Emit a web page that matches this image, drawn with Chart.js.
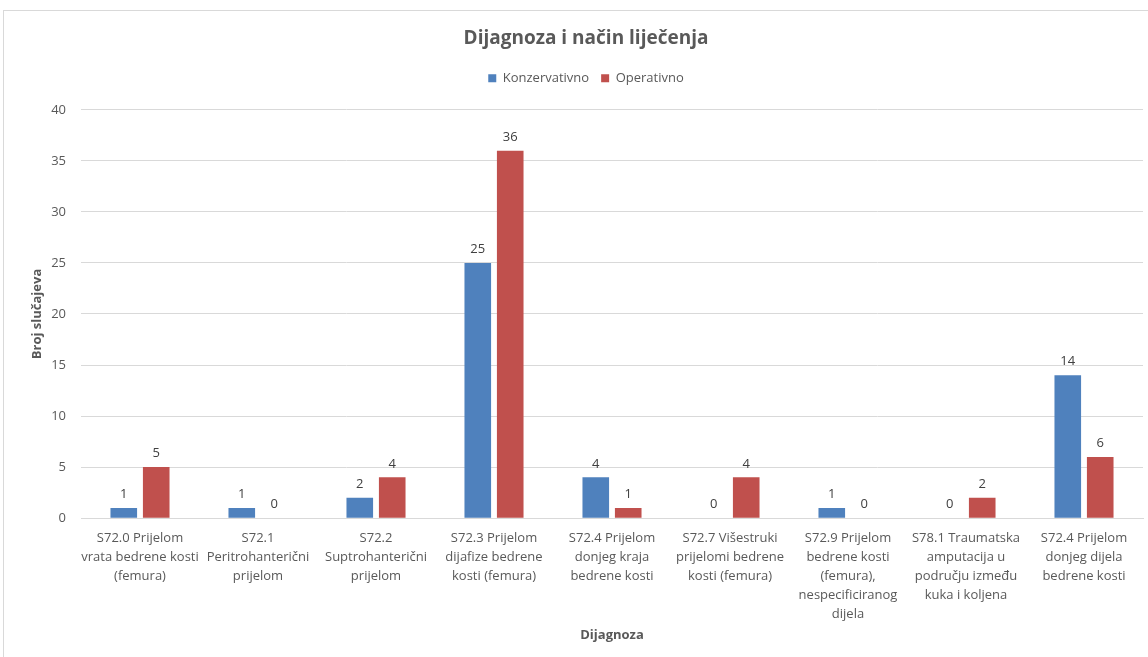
<!DOCTYPE html>
<html>
<head>
<meta charset="utf-8">
<script src="https://cdn.jsdelivr.net/npm/chart.js@4"></script>
<style>
  body { margin: 0; background: #fff; }
  #wrap { position: absolute; left: 3px; top: 10px; width: 1150px; height: 650px; border: 1px solid #d9d9d9; }
</style>
</head>
<body>
<div id="wrap"><canvas id="c"></canvas></div>
<script>
const categories = [
  ['S72.0 Prijelom', 'vrata bedrene kosti', '(femura)'],
  ['S72.1', 'Peritrohanterični', 'prijelom'],
  ['S72.2', 'Suptrohanterični', 'prijelom'],
  ['S72.3 Prijelom', 'dijafize bedrene', 'kosti (femura)'],
  ['S72.4 Prijelom', 'donjeg kraja', 'bedrene kosti'],
  ['S72.7 Višestruki', 'prijelomi bedrene', 'kosti (femura)'],
  ['S72.9 Prijelom', 'bedrene kosti', '(femura),', 'nespecificiranog', 'dijela'],
  ['S78.1 Traumatska', 'amputacija u', 'području između', 'kuka i koljena'],
  ['S72.4 Prijelom', 'donjeg dijela', 'bedrene kosti']
];
const konzervativno = [1, 1, 2, 25, 4, 0, 1, 0, 14];
const operativno = [5, 0, 4, 36, 1, 4, 0, 2, 6];

const fontFamily = 'Open Sans, Noto Sans, sans-serif';

// numbers above the bars
const valueLabels = {
  id: 'valueLabels',
  afterDatasetsDraw(chart) {
    const ctx = chart.ctx;
    ctx.save();
    ctx.font = '13px ' + fontFamily;
    ctx.fillStyle = '#404040';
    ctx.textAlign = 'center';
    ctx.textBaseline = 'bottom';
    chart.data.datasets.forEach((ds, i) => {
      chart.getDatasetMeta(i).data.forEach((bar, j) => {
        ctx.fillText(ds.data[j], bar.x, bar.y - 7);
      });
    });
    ctx.restore();
  }
};

// extra room under the legend
const legendGap = {
  id: 'legendGap',
  beforeInit(chart) {
    const fit = chart.legend.fit;
    chart.legend.fit = function () {
      fit.call(this);
      this.height += 15;
    };
  }
};

new Chart(document.getElementById('c'), {
  type: 'bar',
  data: {
    labels: categories,
    datasets: [
      { label: 'Konzervativno', data: konzervativno, backgroundColor: '#4F81BD' },
      { label: 'Operativno', data: operativno, backgroundColor: '#C0504D' }
    ]
  },
  options: {
    responsive: true,
    maintainAspectRatio: false,
    animation: false,
    categoryPercentage: 0.55,
    barPercentage: 0.82,
    layout: { padding: { left: 25, right: 11, top: 16, bottom: 14 } },
    plugins: {
      title: {
        display: true,
        text: 'Dijagnoza i način liječenja',
        color: '#595959',
        font: { family: fontFamily, size: 19, weight: 'bold' },
        padding: { top: 0, bottom: 10 }
      },
      legend: {
        labels: {
          color: '#595959',
          font: { family: fontFamily, size: 13 },
          boxWidth: 8,
          boxHeight: 8,
          padding: 12
        }
      },
      tooltip: { enabled: false }
    },
    scales: {
      x: {
        grid: { display: false },
        border: { color: '#d9d9d9' },
        ticks: {
          color: '#595959',
          font: { family: fontFamily, size: 13, lineHeight: 1.45 },
          maxRotation: 0,
          autoSkip: false
        },
        title: {
          display: true,
          text: 'Dijagnoza',
          color: '#595959',
          font: { family: fontFamily, size: 13, weight: 'bold' },
          padding: { top: 1 }
        }
      },
      y: {
        min: 0,
        max: 40,
        afterFit(scale) { scale.width = 52; },
        ticks: {
          stepSize: 5,
          color: '#595959',
          font: { family: fontFamily, size: 13 },
          padding: 15
        },
        grid: { color: '#d9d9d9', drawTicks: false },
        border: { display: false },
        title: {
          display: true,
          text: 'Broj slučajeva',
          color: '#595959',
          font: { family: fontFamily, size: 13, weight: 'bold' },
          padding: 0
        }
      }
    }
  },
  plugins: [valueLabels, legendGap]
});
</script>
</body>
</html>
